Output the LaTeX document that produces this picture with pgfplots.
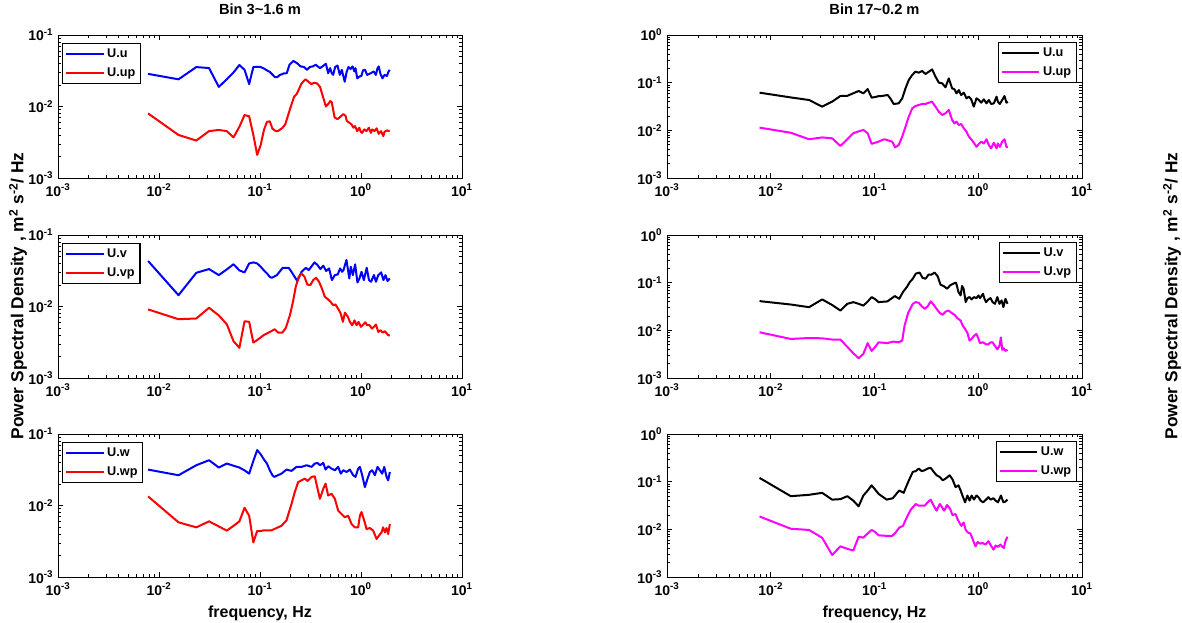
\documentclass[border=0pt]{standalone}
\usepackage{fontspec}
\setmainfont{Liberation Sans}
\usepackage{pgfplots}
\pgfplotsset{compat=1.18}
\definecolor{mblue}{RGB}{0,0,255}
\definecolor{mred}{RGB}{255,0,0}
\definecolor{mmag}{RGB}{255,0,255}
\newcommand{\PSDaxis}[5]{%
\begin{axis}[xmode=log, ymode=log, scale only axis, height=107.25pt, width=#2,
    xmin=1e-3, xmax=10, ymin=1e-3, ymax=#3,
    xtick={1e-3,1e-2,1e-1,1,10},
    xticklabels={10\textsuperscript{-3},10\textsuperscript{-2},10\textsuperscript{-1},10\textsuperscript{0},10\textsuperscript{1}},
    ytick={1e-3,1e-2,1e-1,1},
    yticklabels={10\textsuperscript{-3},10\textsuperscript{-2},10\textsuperscript{-1},10\textsuperscript{0}},
    axis line style={line width=0.7pt},
    tick style={black, line width=0.5pt},
    major tick length=4pt, minor tick length=2.2pt,
    tick label style={font=\bfseries\fontsize{10.5}{12}\selectfont},
    xticklabel style={yshift=-1pt},
    legend cell align=left,
    legend image code/.code={\draw[##1] (0pt,0pt) -- (28pt,0pt);},
    legend style={font=\bfseries\fontsize{9.5}{10}\selectfont, draw=black, line width=0.8pt,
      inner sep=2pt, row sep=2pt, #4},
    every axis plot/.append style={line width=1.5pt, line join=round},
    anchor=north west, at={#1}, #5]}
\begin{document}
\begin{tikzpicture}
\useasboundingbox (0,0) rectangle (886.5pt,-467.25pt);
% ---------- top left
\PSDaxis{(43.5pt,-26.25pt)}{303pt}{1e-1}{at={(0.01,0.945)}, anchor=north west}{title={Bin 3\textasciitilde1.6 m},
  title style={font=\bfseries\fontsize{11}{12}\selectfont, at={(0.5,1)}, anchor=center, yshift=13.5pt}}
\addplot[mblue] coordinates {(0.0078,0.0286) (0.0156,0.0240) (0.0234,0.0356) (0.0313,0.0345) (0.0391,0.0188) (0.0469,0.0240) (0.0547,0.0300) (0.0625,0.0380) (0.0703,0.0326) (0.0781,0.0206) (0.0859,0.0356) (0.0938,0.0360) (0.1016,0.0356) (0.1094,0.0340) (0.1172,0.0320) (0.125,0.0305) (0.1328,0.0280) (0.1406,0.0257) (0.1484,0.0257) (0.1563,0.0275) (0.172,0.0290) (0.184,0.0292) (0.196,0.0384) (0.214,0.0433) (0.232,0.0405) (0.252,0.0364) (0.273,0.0357) (0.292,0.0326) (0.312,0.0357) (0.334,0.0364) (0.356,0.0384) (0.373,0.0364) (0.393,0.0344) (0.415,0.0364) (0.449,0.0396) (0.473,0.0292) (0.495,0.0344) (0.513,0.0292) (0.530,0.0277) (0.555,0.0357) (0.585,0.0374) (0.617,0.0277) (0.646,0.0326) (0.668,0.0267) (0.690,0.0222) (0.723,0.0309) (0.752,0.0357) (0.788,0.0335) (0.826,0.0364) (0.859,0.0309) (0.882,0.0344) (0.918,0.0248) (0.962,0.0262) (1.007,0.0267) (1.047,0.0320) (1.096,0.0326) (1.149,0.0277) (1.212,0.0286) (1.277,0.0298) (1.337,0.0309) (1.402,0.0277) (1.458,0.0344) (1.497,0.0364) (1.558,0.0286) (1.632,0.0248) (1.71,0.0277) (1.803,0.0267) (1.877,0.0309) (1.923,0.0326)};
\addlegendentry{U.u}
\addplot[mred] coordinates {(0.0078,0.0080) (0.0156,0.0040) (0.0234,0.00334) (0.0313,0.00453) (0.0391,0.0047) (0.0469,0.00453) (0.0547,0.0037) (0.0625,0.0052) (0.0703,0.0076) (0.0781,0.0073) (0.0859,0.0040) (0.0938,0.0021) (0.1016,0.0029) (0.1094,0.0047) (0.1172,0.0061) (0.125,0.0062) (0.1328,0.0049) (0.1406,0.0046) (0.1484,0.0045) (0.1563,0.0047) (0.166,0.0050) (0.178,0.00564) (0.196,0.00875) (0.217,0.0136) (0.232,0.0151) (0.256,0.0206) (0.273,0.0230) (0.283,0.0240) (0.302,0.0222) (0.323,0.0206) (0.344,0.0215) (0.368,0.0210) (0.393,0.0188) (0.421,0.0136) (0.449,0.0100) (0.480,0.0111) (0.495,0.0119) (0.513,0.0115) (0.548,0.00703) (0.585,0.00666) (0.625,0.00718) (0.668,0.00784) (0.704,0.0074) (0.723,0.0063) (0.762,0.00596) (0.804,0.00564) (0.842,0.00505) (0.871,0.00533) (0.918,0.00453) (0.962,0.00505) (0.994,0.00443) (1.026,0.00428) (1.076,0.00478) (1.135,0.00453) (1.196,0.00505) (1.253,0.00428) (1.294,0.00478) (1.364,0.00453) (1.429,0.00495) (1.497,0.00415) (1.578,0.00453) (1.664,0.00385) (1.71,0.00443) (1.803,0.00463) (1.877,0.00453) (1.923,0.00463)};
\addlegendentry{U.up}
\end{axis}
% ---------- middle left
\PSDaxis{(43.5pt,-176.25pt)}{303pt}{1e-1}{at={(0.01,0.945)}, anchor=north west}{}
\addplot[mblue] coordinates {(0.0078,0.0433) (0.0156,0.0144) (0.0234,0.0296) (0.0313,0.0334) (0.0391,0.0275) (0.0469,0.0330) (0.0547,0.0390) (0.0625,0.0320) (0.0703,0.0300) (0.0781,0.0400) (0.0859,0.0414) (0.0938,0.0400) (0.1016,0.0360) (0.1094,0.0320) (0.1172,0.0290) (0.125,0.0260) (0.131,0.0252) (0.147,0.0275) (0.168,0.0348) (0.192,0.0348) (0.205,0.0306) (0.234,0.0227) (0.258,0.0306) (0.285,0.0348) (0.304,0.0323) (0.347,0.0414) (0.371,0.0380) (0.396,0.0334) (0.423,0.0372) (0.452,0.0313) (0.483,0.0341) (0.515,0.0234) (0.551,0.0275) (0.589,0.0281) (0.621,0.0341) (0.65,0.0306) (0.671,0.0323) (0.718,0.0447) (0.766,0.0247) (0.792,0.0360) (0.83,0.0275) (0.875,0.0388) (0.922,0.0217) (0.966,0.0247) (1.012,0.0306) (1.067,0.0234) (1.139,0.0348) (1.2,0.0234) (1.257,0.0222) (1.343,0.0275) (1.406,0.0222) (1.483,0.0275) (1.585,0.0300) (1.668,0.0234) (1.747,0.0275) (1.831,0.0227) (1.928,0.0247)};
\addlegendentry{U.v}
\addplot[mred] coordinates {(0.0078,0.0091) (0.0156,0.00664) (0.0234,0.0068) (0.0313,0.0096) (0.0391,0.0075) (0.0469,0.00565) (0.0547,0.00327) (0.0625,0.00264) (0.0703,0.00622) (0.0781,0.0061) (0.0859,0.00313) (0.0938,0.0034) (0.1016,0.0037) (0.1094,0.0040) (0.1172,0.0042) (0.14,0.0048) (0.152,0.0043) (0.166,0.0043) (0.18,0.0050) (0.198,0.0076) (0.212,0.0116) (0.226,0.0189) (0.242,0.0260) (0.258,0.0290) (0.276,0.0260) (0.294,0.0203) (0.315,0.0199) (0.336,0.0234) (0.359,0.0252) (0.384,0.0222) (0.41,0.0179) (0.438,0.0137) (0.468,0.0127) (0.5,0.0116) (0.533,0.0104) (0.558,0.0107) (0.597,0.0092) (0.629,0.0080) (0.662,0.0061) (0.693,0.0082) (0.741,0.0072) (0.776,0.0061) (0.818,0.00547) (0.863,0.0064) (0.904,0.00547) (0.946,0.0061) (0.998,0.00519) (1.052,0.0056) (1.102,0.0060) (1.154,0.00547) (1.217,0.00547) (1.282,0.00492) (1.343,0.00519) (1.406,0.0056) (1.483,0.00441) (1.563,0.00466) (1.637,0.00432) (1.714,0.00451) (1.806,0.00418) (1.866,0.00396) (1.928,0.00396)};
\addlegendentry{U.vp}
\end{axis}
% ---------- bottom left
\PSDaxis{(43.5pt,-325.5pt)}{303pt}{1e-1}{at={(0.01,0.945)}, anchor=north west}{xlabel={frequency, Hz},
  xlabel style={font=\bfseries\fontsize{12}{14}\selectfont, at={(0.5,0)}, anchor=center, yshift=-27pt}}
\addplot[mblue] coordinates {(0.0078,0.0318) (0.0156,0.0265) (0.0234,0.0366) (0.0313,0.0430) (0.0391,0.0340) (0.0469,0.0386) (0.0547,0.0360) (0.0625,0.0340) (0.0703,0.0310) (0.0781,0.0279) (0.0859,0.0420) (0.0938,0.0596) (0.1016,0.0520) (0.1094,0.0440) (0.1172,0.0386) (0.125,0.0311) (0.1328,0.0265) (0.138,0.0251) (0.163,0.0279) (0.183,0.0318) (0.205,0.0305) (0.23,0.0347) (0.258,0.0347) (0.289,0.0366) (0.324,0.0347) (0.349,0.0386) (0.371,0.0394) (0.392,0.0366) (0.423,0.0394) (0.446,0.0318) (0.473,0.0354) (0.511,0.0328) (0.551,0.0311) (0.594,0.0347) (0.631,0.0279) (0.667,0.0311) (0.719,0.0294) (0.776,0.0318) (0.837,0.0265) (0.883,0.0251) (0.938,0.0328) (0.975,0.0347) (1.028,0.0265) (1.092,0.0181) (1.161,0.0238) (1.224,0.0294) (1.291,0.0311) (1.371,0.0265) (1.458,0.0347) (1.538,0.0311) (1.622,0.0279) (1.699,0.0347) (1.791,0.0251) (1.858,0.0225) (1.931,0.0294)};
\addlegendentry{U.w}
\addplot[mred] coordinates {(0.0078,0.0134) (0.0156,0.00582) (0.0234,0.00495) (0.0313,0.0060) (0.0391,0.0051) (0.0469,0.00445) (0.0547,0.0052) (0.0625,0.0060) (0.0703,0.0093) (0.0781,0.0072) (0.0859,0.00305) (0.0938,0.0044) (0.1016,0.0044) (0.1094,0.0045) (0.1172,0.0045) (0.13,0.0045) (0.163,0.0052) (0.183,0.0062) (0.205,0.0105) (0.221,0.0154) (0.239,0.0213) (0.258,0.0225) (0.278,0.0238) (0.296,0.0220) (0.324,0.0251) (0.349,0.0256) (0.363,0.0198) (0.392,0.0124) (0.423,0.0172) (0.446,0.0202) (0.473,0.0138) (0.511,0.0146) (0.551,0.0124) (0.594,0.0085) (0.641,0.0076) (0.692,0.00685) (0.746,0.0072) (0.806,0.00552) (0.869,0.00495) (0.938,0.00495) (0.975,0.0072) (1.012,0.0081) (1.076,0.00615) (1.135,0.00469) (1.224,0.00484) (1.321,0.00445) (1.425,0.0034) (1.504,0.00378) (1.597,0.00421) (1.66,0.00495) (1.723,0.00421) (1.791,0.00484) (1.858,0.00399) (1.931,0.00552)};
\addlegendentry{U.wp}
\end{axis}
% ---------- top right
\PSDaxis{(500.25pt,-26.25pt)}{311.25pt}{1}{at={(0.988,0.951)}, anchor=north east}{title={Bin 17\textasciitilde0.2 m},
  title style={font=\bfseries\fontsize{11}{12}\selectfont, at={(0.5,1)}, anchor=center, yshift=13.5pt}}
\addplot[black] coordinates {(0.0078,0.0617) (0.0156,0.0490) (0.0234,0.0433) (0.0313,0.0314) (0.0391,0.0400) (0.0469,0.0525) (0.0547,0.0530) (0.0625,0.0600) (0.0703,0.0668) (0.0781,0.0597) (0.0859,0.0736) (0.0938,0.0485) (0.1016,0.0500) (0.1094,0.0520) (0.1172,0.0525) (0.134,0.0551) (0.142,0.0469) (0.153,0.0357) (0.171,0.0368) (0.185,0.0469) (0.199,0.0760) (0.214,0.114) (0.231,0.145) (0.248,0.170) (0.267,0.162) (0.288,0.176) (0.31,0.152) (0.334,0.170) (0.359,0.190) (0.387,0.134) (0.417,0.100) (0.449,0.097) (0.483,0.080) (0.52,0.123) (0.56,0.076) (0.59,0.0725) (0.617,0.0597) (0.65,0.070) (0.684,0.0551) (0.726,0.0617) (0.77,0.0469) (0.811,0.0508) (0.855,0.0447) (0.906,0.0314) (0.962,0.0469) (1.014,0.0433) (1.067,0.038) (1.132,0.0447) (1.2,0.0368) (1.264,0.0433) (1.331,0.0357) (1.413,0.0368) (1.5,0.0508) (1.545,0.040) (1.615,0.0357) (1.702,0.0433) (1.79,0.0525) (1.871,0.038) (1.928,0.040)};
\addlegendentry{U.u}
\addplot[mmag] coordinates {(0.0078,0.0114) (0.0156,0.0089) (0.0234,0.0065) (0.0313,0.0071) (0.0391,0.0068) (0.0469,0.0047) (0.0547,0.0065) (0.0625,0.0087) (0.0703,0.0095) (0.0781,0.0102) (0.0859,0.0087) (0.0938,0.0052) (0.1016,0.0055) (0.1094,0.0058) (0.1172,0.0062) (0.125,0.0065) (0.148,0.0058) (0.158,0.0044) (0.171,0.0049) (0.185,0.0074) (0.199,0.0119) (0.214,0.0194) (0.231,0.0290) (0.248,0.0324) (0.267,0.0340) (0.288,0.0357) (0.31,0.0357) (0.334,0.0380) (0.359,0.0400) (0.387,0.0314) (0.417,0.0246) (0.449,0.0210) (0.483,0.0228) (0.52,0.0267) (0.56,0.0165) (0.59,0.0140) (0.617,0.0152) (0.65,0.0129) (0.684,0.0136) (0.726,0.0110) (0.77,0.0094) (0.811,0.0074) (0.855,0.0065) (0.906,0.0055) (0.962,0.0045) (1.014,0.0052) (1.067,0.0058) (1.132,0.0053) (1.2,0.0065) (1.264,0.0049) (1.331,0.0042) (1.413,0.0055) (1.5,0.0042) (1.545,0.0053) (1.615,0.0045) (1.702,0.0058) (1.79,0.0065) (1.871,0.0045) (1.928,0.0044)};
\addlegendentry{U.up}
\end{axis}
% ---------- middle right
\PSDaxis{(500.25pt,-176.25pt)}{311.25pt}{1}{at={(0.988,0.951)}, anchor=north east}{}
\addplot[black] coordinates {(0.0078,0.0410) (0.0156,0.0348) (0.0234,0.0306) (0.0313,0.0445) (0.0391,0.0340) (0.0469,0.0260) (0.0547,0.0360) (0.0625,0.0390) (0.0703,0.0360) (0.0781,0.0330) (0.0859,0.0400) (0.0938,0.0498) (0.1016,0.0450) (0.1094,0.0391) (0.133,0.0404) (0.157,0.0523) (0.173,0.0459) (0.188,0.0635) (0.205,0.081) (0.219,0.103) (0.234,0.121) (0.25,0.155) (0.272,0.163) (0.291,0.126) (0.311,0.121) (0.332,0.148) (0.355,0.148) (0.379,0.163) (0.405,0.138) (0.433,0.0907) (0.463,0.085) (0.501,0.0747) (0.536,0.0879) (0.573,0.0953) (0.611,0.100) (0.645,0.0635) (0.676,0.054) (0.698,0.085) (0.722,0.0747) (0.757,0.0391) (0.787,0.0474) (0.824,0.0498) (0.863,0.0445) (0.91,0.0498) (0.96,0.0474) (1.006,0.054) (1.04,0.0474) (1.111,0.0586) (1.149,0.0459) (1.188,0.0391) (1.253,0.0445) (1.313,0.0474) (1.375,0.0391) (1.449,0.036) (1.528,0.0498) (1.6,0.036) (1.679,0.0424) (1.746,0.0306) (1.828,0.0459) (1.914,0.036)};
\addlegendentry{U.v}
\addplot[mmag] coordinates {(0.0078,0.0091) (0.0156,0.0066) (0.0234,0.0069) (0.0313,0.0068) (0.0391,0.0064) (0.0469,0.0064) (0.0547,0.0045) (0.0625,0.0033) (0.0703,0.0026) (0.0781,0.0032) (0.0859,0.0054) (0.0938,0.0037) (0.1016,0.0045) (0.1094,0.0056) (0.133,0.0054) (0.152,0.0058) (0.171,0.0056) (0.185,0.0061) (0.195,0.0126) (0.211,0.0232) (0.234,0.0360) (0.25,0.0391) (0.267,0.0378) (0.285,0.0321) (0.305,0.0282) (0.326,0.0321) (0.348,0.0404) (0.372,0.0343) (0.397,0.0282) (0.425,0.0232) (0.454,0.0211) (0.485,0.0248) (0.518,0.0260) (0.553,0.0232) (0.592,0.0211) (0.632,0.0179) (0.676,0.0160) (0.708,0.0126) (0.746,0.0107) (0.787,0.0088) (0.824,0.0061) (0.863,0.0066) (0.91,0.0077) (0.96,0.0084) (1.006,0.0066) (1.04,0.0054) (1.111,0.0056) (1.188,0.0051) (1.253,0.0051) (1.313,0.0056) (1.375,0.0056) (1.449,0.0047) (1.528,0.0040) (1.6,0.0047) (1.652,0.0071) (1.706,0.0039) (1.766,0.0042) (1.828,0.0037) (1.914,0.0039)};
\addlegendentry{U.vp}
\end{axis}
% ---------- bottom right
\PSDaxis{(500.25pt,-325.5pt)}{311.25pt}{1}{at={(0.988,0.951)}, anchor=north east}{xlabel={frequency, Hz},
  xlabel style={font=\bfseries\fontsize{12}{14}\selectfont, at={(0.5,0)}, anchor=center, yshift=-27pt}}
\addplot[black] coordinates {(0.0078,0.120) (0.0156,0.0496) (0.0234,0.0530) (0.0313,0.0583) (0.0391,0.0420) (0.0469,0.0430) (0.0547,0.0496) (0.0625,0.0400) (0.0703,0.0304) (0.0781,0.0512) (0.0859,0.0650) (0.0938,0.0836) (0.1016,0.0680) (0.1094,0.0556) (0.131,0.0420) (0.15,0.0449) (0.173,0.0654) (0.191,0.0583) (0.211,0.0984) (0.234,0.161) (0.25,0.166) (0.267,0.189) (0.285,0.166) (0.305,0.174) (0.326,0.189) (0.348,0.195) (0.372,0.161) (0.397,0.136) (0.425,0.126) (0.454,0.107) (0.485,0.116) (0.529,0.136) (0.565,0.112) (0.604,0.077) (0.645,0.0836) (0.676,0.0654) (0.708,0.0496) (0.746,0.0369) (0.787,0.0512) (0.824,0.0401) (0.863,0.0512) (0.91,0.0420) (0.96,0.0512) (1.006,0.0472) (1.054,0.0401) (1.111,0.0369) (1.188,0.0420) (1.253,0.0472) (1.313,0.0420) (1.403,0.0449) (1.469,0.0401) (1.549,0.0369) (1.655,0.0512) (1.746,0.0369) (1.828,0.0382) (1.914,0.0420)};
\addlegendentry{U.w}
\addplot[mmag] coordinates {(0.0078,0.0186) (0.0156,0.0103) (0.0234,0.0097) (0.0313,0.00665) (0.0391,0.0029) (0.0469,0.0044) (0.0547,0.0039) (0.0625,0.0036) (0.0703,0.0070) (0.0781,0.0067) (0.0859,0.0082) (0.0938,0.0097) (0.1016,0.0088) (0.1094,0.0075) (0.1172,0.0074) (0.147,0.0072) (0.157,0.0082) (0.173,0.0108) (0.188,0.0118) (0.208,0.0192) (0.226,0.0267) (0.25,0.0340) (0.267,0.0313) (0.285,0.0313) (0.305,0.0313) (0.326,0.0370) (0.348,0.0420) (0.372,0.0313) (0.397,0.0246) (0.425,0.0340) (0.438,0.0313) (0.469,0.0246) (0.501,0.0324) (0.536,0.0267) (0.565,0.0199) (0.604,0.0209) (0.632,0.0163) (0.662,0.0134) (0.689,0.0118) (0.722,0.0139) (0.757,0.0097) (0.798,0.0085) (0.841,0.0082) (0.898,0.00565) (0.942,0.0044) (0.986,0.0054) (1.04,0.0050) (1.096,0.0052) (1.172,0.0048) (1.253,0.00565) (1.339,0.0044) (1.403,0.00375) (1.469,0.00457) (1.549,0.00428) (1.635,0.0048) (1.71,0.00428) (1.766,0.00407) (1.828,0.00565) (1.914,0.0070)};
\addlegendentry{U.wp}
\end{axis}
% ---------- shared y labels
\node[rotate=90, font=\bfseries\fontsize{13}{15}\selectfont] at (13.5pt,-222pt) {Power Spectral Density , m\textsuperscript{2} s\textsuperscript{-2}/ Hz};
\node[rotate=90, font=\bfseries\fontsize{13}{15}\selectfont] at (879pt,-222pt) {Power Spectral Density , m\textsuperscript{2} s\textsuperscript{-2}/ Hz};
\end{tikzpicture}
\end{document}
